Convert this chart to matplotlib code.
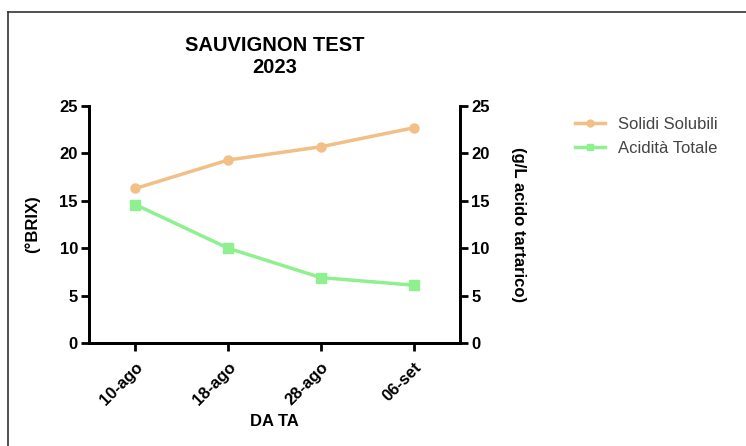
import matplotlib
matplotlib.use("Agg")
import matplotlib.pyplot as plt
from matplotlib.lines import Line2D

dates = ["10-ago", "18-ago", "28-ago", "06-set"]
solidi = [16.3, 19.3, 20.7, 22.7]
acidita = [14.6, 10.0, 6.9, 6.1]
yticks = [0, 5, 10, 15, 20, 25]

plt.rcParams['font.family'] = ['Liberation Sans', 'DejaVu Sans']
fig = plt.figure(figsize=(7.46, 4.46), dpi=100)
ax = fig.add_axes([89/746, 1-343/446, (460-89)/746, (343-106)/446])
ax2 = ax.twinx()

orange = "#f2bf86"
green = "#8ff08f"
x = list(range(len(dates)))
ax.plot(x, solidi, color=orange, lw=2.5, marker='o', ms=6.5, zorder=3)
ax2.plot(x, acidita, color=green, lw=2.5, marker='s', ms=6.5, zorder=3)

for a in (ax, ax2):
    a.set_ylim(0, 25)
    a.set_yticks(yticks)
    a.set_xlim(-0.5, 3.5)
    for s in a.spines.values():
        s.set_linewidth(2)
    a.tick_params(width=2, length=6, direction='out', labelsize=12, pad=2)
    for lab in a.get_yticklabels():
        lab.set_fontweight('bold')
ax.spines['top'].set_visible(False)
ax2.spines['top'].set_visible(False)
ax.set_xticks(x)
ax.set_xticklabels(dates, rotation=45, ha='right', rotation_mode='anchor', fontweight='bold', fontsize=12)
ax.tick_params(axis='x', pad=6)
ax.set_xlabel("DA TA", fontweight='bold', fontsize=12, labelpad=-8)
ax.xaxis.set_label_coords(0.5, -0.3)
ax.set_ylabel("(°BRIX)", fontweight='bold', fontsize=12, labelpad=14)
ax2.set_ylabel("(g/L acido tartarico)", fontweight='bold', fontsize=12, rotation=-90, labelpad=26)
ax.set_title("SAUVIGNON TEST\n2023", fontweight='bold', fontsize=14.5, pad=24, linespacing=1.15)

handles = [Line2D([], [], color=orange, lw=2.5, marker='o', ms=5),
           Line2D([], [], color=green, lw=2.5, marker='s', ms=5)]
fig.legend(handles, ["Solidi Solubili", "Acidità Totale"], loc='upper left',
           bbox_to_anchor=(560/746, 1-102/446), frameon=False, fontsize=12,
           handlelength=1.8, labelspacing=0.55, handletextpad=0.8, labelcolor='#444444')

fig.add_artist(Line2D([8/746, 8/746], [0, 1-12/446], color='#333333', lw=1.2, transform=fig.transFigure))
fig.add_artist(Line2D([8/746, 1], [1-12/446, 1-12/446], color='#333333', lw=1.2, transform=fig.transFigure))

fig.savefig("out.png", dpi=100)
